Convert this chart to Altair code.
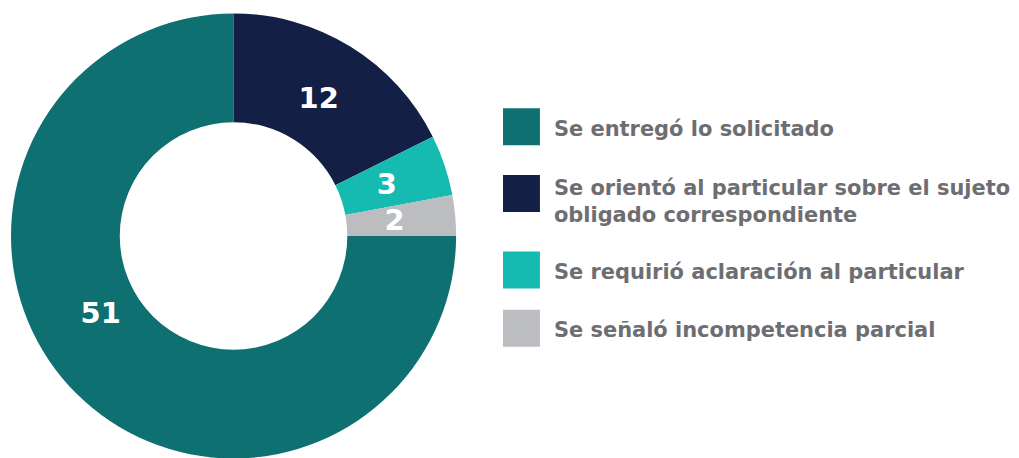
import math
import altair as alt
import pandas as pd

categorias = [
    "Se entregó lo solicitado",
    "Se orientó al particular sobre el sujeto obligado correspondiente",
    "Se requirió aclaración al particular",
    "Se señaló incompetencia parcial",
]
etiquetas = [
    "Se entregó lo solicitado",
    "Se orientó al particular sobre el sujeto\nobligado correspondiente",
    "Se requirió aclaración al particular",
    "Se señaló incompetencia parcial",
]
valores = [51, 12, 3, 2]
colores = ["#0F7072", "#131F45", "#15BAB0", "#BBBDC0"]

df = pd.DataFrame({
    "categoria": categorias,
    "etiqueta": etiquetas,
    "valor": valores,
    "orden": list(range(len(categorias))),
    "extra": [e.count("\n") for e in etiquetas],
})

color = alt.Color("categoria:N", scale=alt.Scale(domain=categorias, range=colores), legend=None)
theta = alt.Theta("valor:Q", stack=True,
                  scale=alt.Scale(type="linear", range=[math.pi / 2, math.pi / 2 + 2 * math.pi]))
order = alt.Order("orden:Q")

base = alt.Chart(df)

arcs = base.mark_arc(outerRadius=223, innerRadius=114, stroke=None).encode(
    theta=theta, color=color, order=order,
    x=alt.value(226), y=alt.value(228),
)

lbl_font = dict(font="DejaVu Sans", fontWeight="bold", fontSize=29, color="white",
                align="center", baseline="middle")

labels_small = base.mark_text(radius=162, **lbl_font).encode(
    theta=theta, order=order, text="valor:Q",
    x=alt.value(226), y=alt.value(228),
    opacity=alt.condition(alt.datum.valor < 20, alt.value(1), alt.value(0)),
)

labels_big = base.mark_text(radius=160, dx=-20, dy=-35, **lbl_font).encode(
    theta=theta, order=order, text="valor:Q",
    x=alt.value(226), y=alt.value(228),
    opacity=alt.condition(alt.datum.valor >= 20, alt.value(1), alt.value(0)),
)

# legend layout: each entry is one base row plus one extra line per wrapped line
ley = base.transform_window(
    cum_extra="sum(extra)", sort=[alt.SortField("orden")]
).transform_calculate(
    pos="datum.orden * 58.5 + (datum.cum_extra - datum.extra) * 26.5 + datum.extra * 8.5"
).transform_calculate(
    pos_txt="datum.pos - datum.extra * 8"
)

escala_ley = alt.Scale(domain=[0, 202], range=[118.5, 320.5])

ley_sq = ley.mark_square(size=37 * 37, opacity=1).encode(
    y=alt.Y("pos:Q", axis=None, scale=escala_ley), x=alt.value(514.5), color=color,
)

ley_txt = ley.mark_text(align="left", baseline="middle", dy=3, lineBreak="\n", lineHeight=27,
                        font="DejaVu Sans", fontWeight="bold", fontSize=21,
                        color="#6D6E71").encode(
    y=alt.Y("pos_txt:Q", axis=None, scale=escala_ley), x=alt.value(547), text="etiqueta:N",
)

chart = alt.layer(arcs, labels_small, labels_big, ley_sq, ley_txt).properties(
    width=1003, height=442, padding=0,
).configure_view(stroke=None)

chart.save("out.html", embed_options={"renderer": "svg", "actions": False})
